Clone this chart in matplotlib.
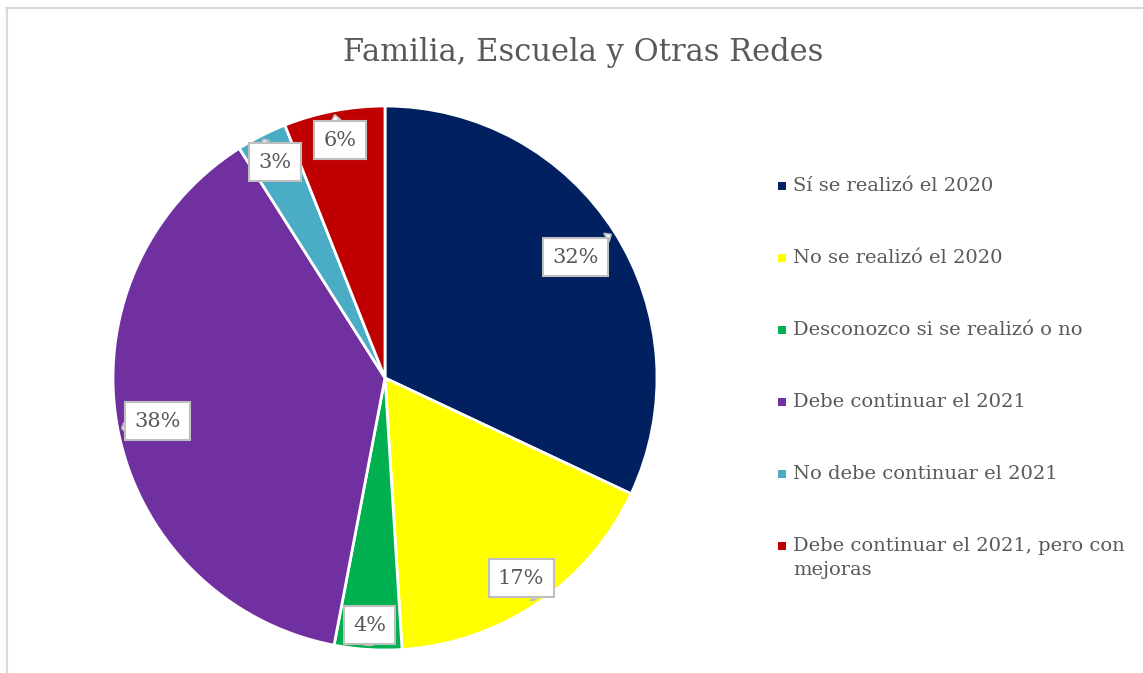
import matplotlib
matplotlib.use("Agg")
import matplotlib.pyplot as plt
from matplotlib.lines import Line2D
from matplotlib.patches import Rectangle
import numpy as np

title = "Familia, Escuela y Otras Redes"
categories = [
    "Sí se realizó el 2020",
    "No se realizó el 2020",
    "Desconozco si se realizó o no",
    "Debe continuar el 2021",
    "No debe continuar el 2021",
    "Debe continuar el 2021, pero con\nmejoras",
]
values = [32, 17, 4, 38, 3, 6]
colors = ["#002060", "#FFFF00", "#00B050", "#7030A0", "#4BACC6", "#C00000"]
label_dist = [0.83, 0.89, 0.91, 0.85, 0.89, 0.89]

W, H = 1143, 673
fig = plt.figure(figsize=(W / 100, H / 100), dpi=100)
fig.patch.set_facecolor("white")
FONT = "DejaVu Serif"
TXT = "#595959"

# border (chart area frame, partially cropped)
fig.add_artist(Line2D([6 / W, 1], [1 - 8 / H, 1 - 8 / H], color="#D9D9D9", lw=1.5))
fig.add_artist(Line2D([7 / W, 7 / W], [0, 1 - 8 / H], color="#D9D9D9", lw=1.5))

cx, cy, R = 385, 378, 272
ax = fig.add_axes([(cx - R) / W, 1 - (cy + R) / H, 2 * R / W, 2 * R / H])
wedges, _ = ax.pie(values, colors=colors, startangle=90, counterclock=False,
                   wedgeprops=dict(edgecolor="white", linewidth=2))
ax.set_aspect("equal")
ax.set_xlim(-1, 1)
ax.set_ylim(-1, 1)

total = sum(values)
for w, v, d in zip(wedges, values, label_dist):
    ang = np.deg2rad((w.theta1 + w.theta2) / 2)
    ax.annotate(f"{round(100 * v / total)}%",
                xy=(0.985 * np.cos(ang), 0.985 * np.sin(ang)),
                xytext=(d * np.cos(ang), d * np.sin(ang)),
                ha="center", va="center", fontsize=15, color=TXT, family=FONT,
                bbox=dict(boxstyle="square,pad=0.45", fc="white", ec="#BFBFBF", lw=1.5),
                arrowprops=dict(arrowstyle="wedge,tail_width=0.45,shrink_factor=0.5",
                                fc="white", ec="#BFBFBF", lw=1.2,
                                shrinkA=0, shrinkB=0))

fig.text(583 / W, 1 - 53 / H, title, ha="center", va="center",
         fontsize=22, color=TXT, family=FONT)

# legend
y0, dy = 186, 72
for i, (lab, c) in enumerate(zip(categories, colors)):
    y = y0 + i * dy
    fig.add_artist(Rectangle(((782 - 4) / W, 1 - (y + 4) / H), 8 / W, 8 / H,
                             transform=fig.transFigure, fc=c, ec="none"))
    fig.text(793 / W, 1 - (y - 9) / H, lab, ha="left", va="top",
             fontsize=14, color=TXT, family=FONT, linespacing=1.45)

fig.savefig("out.png", dpi=100, facecolor="white")
